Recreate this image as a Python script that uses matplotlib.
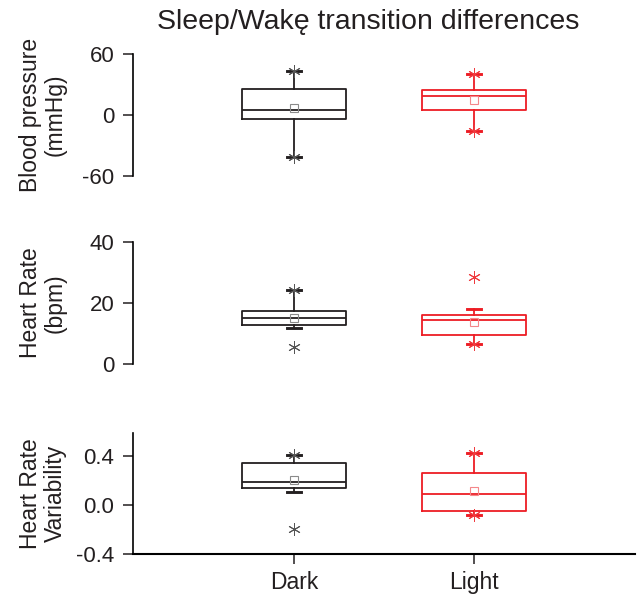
import matplotlib
matplotlib.use('Agg')
import matplotlib.pyplot as plt
from matplotlib.ticker import FormatStrFormatter

plt.rcParams['font.family'] = ['Liberation Sans', 'DejaVu Sans']
plt.rcParams['axes.unicode_minus'] = False

groups = ['Dark', 'Light']
box_colors = ['#231f20', '#ed1c24']
mean_colors = ['#8a8a8a', '#f4878a']
star_colors = ['#555555', '#ef3b3f']

# per group: q1, median, q3, whisker low, whisker high, mean
bp_stats = [(-3.7, 4.7, 25.7, -41.0, 43.0, 6.5),
            (4.7, 18.3, 25.0, -15.7, 40.0, 14.7)]
bp_stars = [[43.0, -41.0], [40.0, -15.7]]

hr_stats = [(12.9, 15.0, 17.5, 11.9, 24.2, 15.0),
            (9.5, 14.3, 16.2, 6.7, 18.0, 13.8)]
hr_stars = [[24.2, 5.5], [28.4, 6.7]]

hrv_stats = [(0.139, 0.188, 0.345, 0.109, 0.41, 0.204),
             (-0.049, 0.09, 0.259, -0.082, 0.43, 0.114)]
hrv_stars = [[0.41, -0.193], [0.43, -0.082]]

panels = [
    ('Blood pressure\n(mmHg)', bp_stats, bp_stars, (-60, 60), [-60, 0, 60], '%d'),
    ('Heart Rate\n(bpm)', hr_stats, hr_stars, (0, 40), [0, 20, 40], '%d'),
    ('Heart Rate\nVariability', hrv_stats, hrv_stars, (-0.4, 0.59), [-0.4, 0.0, 0.4], '%.1f'),
]

fig = plt.figure(figsize=(6.39, 5.96), dpi=100)
W, H = 639, 596
left, right = 133, 635
tops = [54, 242, 433]
bottoms = [176, 364, 554]

for i, (label, stats, stars, ylim, yticks, fmt) in enumerate(panels):
    ax = fig.add_axes([left / W, 1 - bottoms[i] / H, (right - left) / W,
                       (bottoms[i] - tops[i]) / H])
    for j, s in enumerate(stats):
        q1, med, q3, lo, hi, mean = s
        st = dict(q1=q1, med=med, q3=q3, whislo=lo, whishi=hi, mean=mean,
                  fliers=stars[j])
        c = box_colors[j]
        lw = 1.3
        ax.bxp([st], positions=[j + 1], widths=0.58, capwidths=0.075,
               showmeans=True, showfliers=True,
               boxprops=dict(color=c, linewidth=lw),
               medianprops=dict(color=c, linewidth=lw),
               whiskerprops=dict(color=c, linewidth=lw),
               capprops=dict(color=c, linewidth=lw * 1.6),
               meanprops=dict(marker='s', markersize=6, markerfacecolor='none',
                              markeredgecolor=mean_colors[j], markeredgewidth=0.8),
               flierprops=dict(marker=(6, 2, 0), markersize=9,
                               markeredgecolor=star_colors[j],
                               markeredgewidth=0.7, linestyle='none'))
    ax.set_xlim(0.106, 2.894)
    ax.set_ylim(*ylim)
    ax.set_yticks(yticks)
    ax.yaxis.set_major_formatter(FormatStrFormatter(fmt))
    for side in ['top', 'right']:
        ax.spines[side].set_visible(False)
    ax.spines['left'].set_linewidth(1.2)
    ax.spines['bottom'].set_linewidth(1.5)
    ax.tick_params(axis='y', direction='out', length=7, width=1.1,
                   labelsize=16, colors='#231f20', pad=6.5)
    ax.tick_params(axis='x', direction='out', length=7, width=1.1,
                   labelsize=16.5, colors='#231f20', pad=5)
    if i < 2:
        ax.spines['bottom'].set_visible(False)
        ax.set_xticks([])
    else:
        ax.set_xticks([1, 2])
        ax.set_xticklabels(groups)
    fig.text(43 / W, 1 - (tops[i] + bottoms[i]) / 2 / H, label, rotation=90,
             ha='center', va='center', multialignment='center', fontsize=16.5,
             color='#231f20', linespacing=1.1)

fig.text(368 / W, 1 - 22 / H, 'Sleep/Wakę transition differences',
         ha='center', va='center', fontsize=20.5, color='#231f20')

fig.savefig('out.png', dpi=100)
